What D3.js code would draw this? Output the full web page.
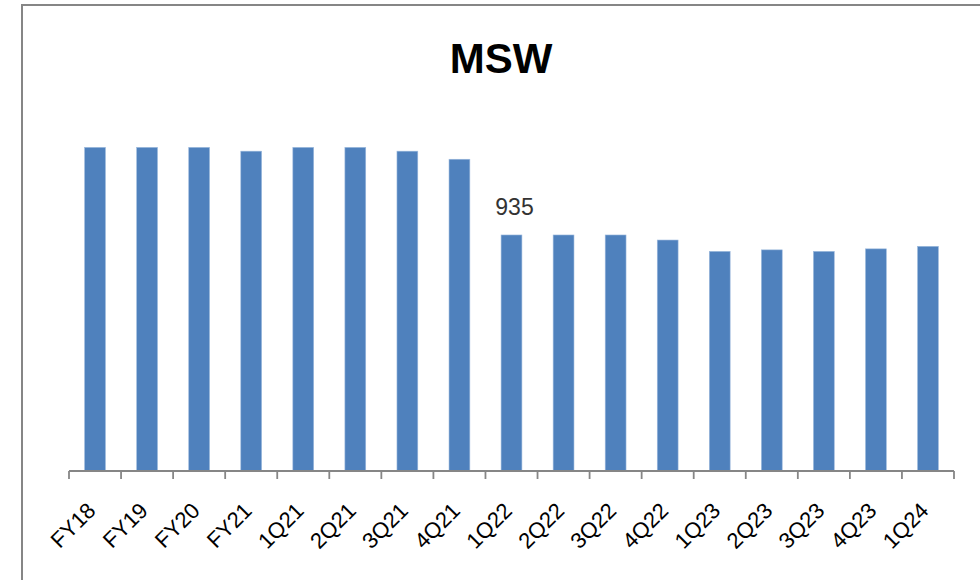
<!DOCTYPE html>
<html>
<head>
<meta charset="utf-8">
<script src="https://cdn.jsdelivr.net/npm/d3@7"></script>
<style>
  body { margin: 0; background: #fff; }
  svg { display: block; }
</style>
</head>
<body>
<svg id="chart" width="980" height="580"></svg>
<script>
var periods = ["FY18", "FY19", "FY20", "FY21", "1Q21", "2Q21", "3Q21", "4Q21",
  "1Q22", "2Q22", "3Q22", "4Q22", "1Q23", "2Q23", "3Q23", "4Q23", "1Q24"];
var msw = [1282, 1282, 1282, 1267, 1282, 1282, 1267, 1235,
  935, 935, 935, 915, 870, 876, 870, 880, 890];
var labelled = ["1Q22"];
var title = "MSW";

var svg = d3.select("#chart");
var baseY = 471, topY = 117.6;

// frame of the chart area (only top and left edges are inside the picture)
svg.append("path")
  .attr("d", "M22,600 V5 H990")
  .attr("fill", "none")
  .attr("stroke", "#868686")
  .attr("stroke-width", 2);

svg.append("text")
  .attr("x", 501)
  .attr("y", 73)
  .attr("text-anchor", "middle")
  .style("font-family", "'Liberation Sans', Arial, sans-serif")
  .style("font-weight", "bold")
  .style("font-size", "42px")
  .style("fill", "#000")
  .text(title);

var x = d3.scaleBand()
  .domain(periods)
  .range([69, 954])
  .paddingInner(0.6)
  .paddingOuter(0.3);

var y = d3.scaleLinear()
  .domain([0, 1400])
  .range([baseY, topY]);

svg.append("g")
  .selectAll("rect")
  .data(periods)
  .join("rect")
  .attr("x", function(d){ return x(d); })
  .attr("y", function(d, i){ return y(msw[i]); })
  .attr("width", x.bandwidth())
  .attr("height", function(d, i){ return y(0) - y(msw[i]); })
  .attr("fill", "#4f81bd")
  .attr("stroke", "#9cb9dd")
  .attr("stroke-width", 0.6);

// category axis: line, ticks between categories
var step = x.step();
var axis = svg.append("g")
  .attr("stroke", "#868686")
  .attr("stroke-width", 1.8);
axis.append("line")
  .attr("x1", 69).attr("x2", 954)
  .attr("y1", baseY).attr("y2", baseY);
axis.selectAll("line.tick")
  .data(d3.range(periods.length + 1))
  .join("line")
  .attr("class", "tick")
  .attr("x1", function(i){ return 69 + i * step; })
  .attr("x2", function(i){ return 69 + i * step; })
  .attr("y1", baseY)
  .attr("y2", baseY + 8);

svg.append("g")
  .selectAll("text")
  .data(periods)
  .join("text")
  .attr("transform", function(d){
    var cx = x(d) + x.bandwidth() / 2 + 2;
    return "translate(" + cx + "," + 512 + ") rotate(-45)";
  })
  .attr("text-anchor", "end")
  .style("font-family", "'Liberation Sans', Arial, sans-serif")
  .style("font-size", "22px")
  .style("fill", "#000")
  .text(function(d){ return d; });

svg.append("g")
  .selectAll("text")
  .data(periods.filter(function(d){ return labelled.indexOf(d) >= 0; }))
  .join("text")
  .attr("x", function(d){ return x(d) + x.bandwidth() / 2 + 3; })
  .attr("y", function(d){ return y(msw[periods.indexOf(d)]) - 20; })
  .attr("text-anchor", "middle")
  .style("font-family", "'Liberation Sans', Arial, sans-serif")
  .style("font-size", "23px")
  .style("fill", "#333")
  .text(function(d){ return msw[periods.indexOf(d)]; });
</script>
</body>
</html>
